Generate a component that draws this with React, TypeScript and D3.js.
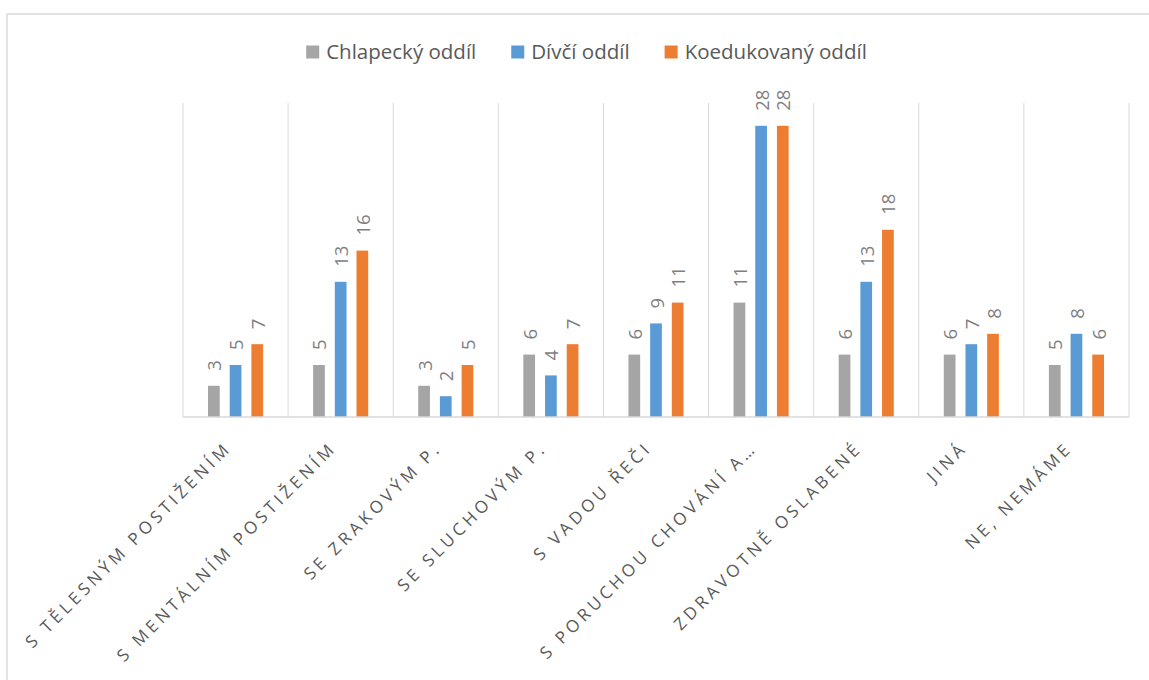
import React from "react";
import * as d3 from "d3";

const categories = [
  "S TĚLESNÝM POSTIŽENÍM",
  "S MENTÁLNÍM POSTIŽENÍM",
  "SE ZRAKOVÝM P.",
  "SE SLUCHOVÝM P.",
  "S VADOU ŘEČI",
  "S PORUCHOU CHOVÁNÍ A…",
  "ZDRAVOTNĚ OSLABENÉ",
  "JINÁ",
  "NE, NEMÁME",
];
const seriesNames = ["Chlapecký oddíl", "Dívčí oddíl", "Koedukovaný oddíl"];
const chlapecky = [3, 5, 3, 6, 6, 11, 6, 6, 5];
const divci = [5, 13, 2, 4, 9, 28, 13, 7, 8];
const koedukovany = [7, 16, 5, 7, 11, 28, 18, 8, 6];
const seriesValues = [chlapecky, divci, koedukovany];
const colors = ["#a5a5a5", "#5b9bd5", "#ed7d31"];

const W = 1149;
const H = 680;
const FONT = "'Open Sans', 'Noto Sans', sans-serif";

function measure(text: string, font: string): number {
  const c = document.createElement("canvas").getContext("2d");
  if (!c) return text.length * 10;
  c.font = font;
  return c.measureText(text).width;
}

export default function App() {
  const left = 183;
  const right = 1129;
  const baseY = 417;
  const topY = 103;

  const x0 = d3.scaleBand<string>().domain(categories).range([left, right]).padding(0);
  const x1 = d3
    .scaleBand<string>()
    .domain(seriesNames)
    .range([0, x0.bandwidth()])
    .paddingInner(0.46)
    .paddingOuter(1.153);
  const y = d3.scaleLinear().domain([0, 30]).range([baseY, 105]);

  // legend layout
  const legendFontSize = 20.5;
  const legendFont = `${legendFontSize}px 'Open Sans'`;
  const sq = 13;
  const sqGap = 7;
  const itemGap = 35;
  const widths = seriesNames.map((s) => measure(s, legendFont));
  const total = widths.reduce((a, b) => a + b, 0) + seriesNames.length * (sq + sqGap) + itemGap * (seriesNames.length - 1);
  const legendCenter = 586.5;
  let cursor = legendCenter - total / 2;
  const legendItems = seriesNames.map((s, i) => {
    const item = { name: s, x: cursor, color: colors[i] };
    cursor += sq + sqGap + widths[i] + itemGap;
    return item;
  });

  const boundaries = d3.range(categories.length + 1).map((i) => left + i * x0.step());

  return (
    <div style={{ position: "absolute", left: 0, top: 0 }}>
      <svg width={W} height={H} style={{ display: "block", background: "#fff" }}>
        <rect x={7} y={14} width={W + 20} height={H + 20} fill="#fff" stroke="#d9d9d9" strokeWidth={1.5} />

        {/* gridlines */}
        {boundaries.map((bx, i) => (
          <line key={i} x1={bx} x2={bx} y1={topY} y2={baseY} stroke="#d9d9d9" strokeWidth={1} />
        ))}

        {/* bars */}
        {categories.map((cat, ci) =>
          seriesNames.map((s, si) => {
            const v = seriesValues[si][ci];
            const bx = (x0(cat) as number) + (x1(s) as number);
            const bw = x1.bandwidth();
            const cx = bx + bw / 2;
            const ty = y(v) - 15;
            return (
              <g key={`${ci}-${si}`}>
                <rect x={bx} y={y(v)} width={bw} height={baseY - y(v)} fill={colors[si]} />
                <text
                  transform={`translate(${cx},${ty}) rotate(-90)`}
                  textAnchor="start"
                  dominantBaseline="central"
                  fontFamily={FONT}
                  fontSize={18.5}
                  fill="#7f7f7f"
                >
                  {v}
                </text>
              </g>
            );
          })
        )}

        {/* baseline */}
        <line x1={left} x2={right} y1={baseY} y2={baseY} stroke="#d9d9d9" strokeWidth={1.5} />

        {/* category labels */}
        {categories.map((cat) => {
          const cx = (x0(cat) as number) + x0.bandwidth() / 2;
          return (
            <text
              key={cat}
              transform={`translate(${cx - 3},${baseY + 32}) rotate(-45)`}
              textAnchor="end"
              fontFamily={FONT}
              fontSize={17}
              letterSpacing={3.9}
              fill="#595959"
            >
              {cat}
            </text>
          );
        })}

        {/* legend */}
        {legendItems.map((it) => (
          <g key={it.name}>
            <rect x={it.x} y={45.5} width={sq} height={sq} fill={it.color} />
            <text x={it.x + sq + sqGap} y={59} fontFamily={FONT} fontSize={legendFontSize} fill="#595959">
              {it.name}
            </text>
          </g>
        ))}
      </svg>
    </div>
  );
}
